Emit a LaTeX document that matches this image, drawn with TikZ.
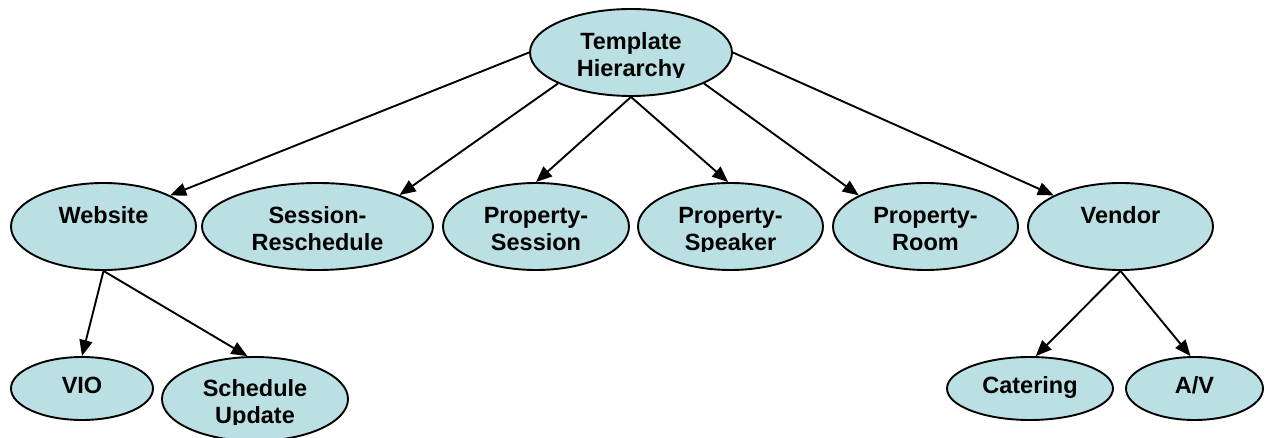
\documentclass[tikz,border=0pt]{standalone}
\usepackage{fontspec}
\setmainfont{Liberation Sans}
\usetikzlibrary{arrows.meta,shapes.geometric}
\definecolor{nodefill}{RGB}{187,224,227}
\tikzset{
  bub/.style={ellipse,draw=black,line width=1.9pt,fill=nodefill,inner sep=0pt,minimum height=87pt},
  lbl/.style={anchor=base,inner sep=0pt,font=\bfseries\fontsize{23.5}{27}\selectfont},
  conn/.style={line width=1.9pt,-{Triangle[length=16pt,width=13pt]}}
}
\newcommand\lbltwo[3]{%
  \begin{scope}
    \clip ([xshift=-150pt,yshift=60pt]#1.center) rectangle ([xshift=150pt,yshift=-25.5pt]#1.center);
    \node[lbl] (#1-a) at ([yshift=3pt]#1.center) {#2};
    \node[lbl] (#1-b) at ([yshift=-24pt]#1.center) {#3};
  \end{scope}}
\newcommand\lblone[3]{%
  \node[lbl] (#1-a) at ([yshift=#3]#1.center) {#2};}
\begin{document}
\begin{tikzpicture}[x=1pt,y=-1pt]
\useasboundingbox (0,0) rectangle (1267,438);
\node[bub,minimum width=202pt] (root) at (631,52.5) {};
\node[bub,minimum width=185pt] (web) at (103.5,226.5) {};
\node[bub,minimum width=231pt] (sr) at (317.5,226.5) {};
\node[bub,minimum width=186pt] (ps) at (536,226.5) {};
\node[bub,minimum width=185pt] (psp) at (730.5,226.5) {};
\node[bub,minimum width=185pt] (pr) at (925.5,226.5) {};
\node[bub,minimum width=185pt] (ven) at (1120.5,226.5) {};
\node[bub,minimum width=142pt,minimum height=63pt] (vio) at (82,388.5) {};
\node[bub,minimum width=186pt,minimum height=84pt] (su) at (255,399) {};
\node[bub,minimum width=166pt,minimum height=63pt] (cat) at (1030,388.5) {};
\node[bub,minimum width=137pt,minimum height=63pt] (av) at (1194.5,388.5) {};

\lbltwo{root}{Template}{Hierarchy}
\lblone{web}{Website}{3pt}
\lbltwo{sr}{Session-}{Reschedule}
\lbltwo{ps}{Property-}{Session}
\lbltwo{psp}{Property-}{Speaker}
\lbltwo{pr}{Property-}{Room}
\lblone{ven}{Vendor}{3pt}
\lblone{vio}{VIO}{-5.5pt}
\lbltwo{su}{Schedule}{Update}
\lblone{cat}{Catering}{-5pt}
\lblone{av}{A/V}{-5.5pt}

\draw[conn] (root.west) -- (web.25);
\draw[conn] (root.203) -- (sr.21);
\draw[conn] (root.south) -- (ps.north);
\draw[conn] (root.south) -- (psp.93);
\draw[conn] (root.337) -- (pr.155);
\draw[conn] (root.east) -- (ven.155);
\draw[conn] (web.south) -- (vio.north);
\draw[conn] (web.south) -- (su.100);
\draw[conn] (ven.south) -- (cat.80);
\draw[conn] (ven.south) -- (av.97);
\end{tikzpicture}
\end{document}
